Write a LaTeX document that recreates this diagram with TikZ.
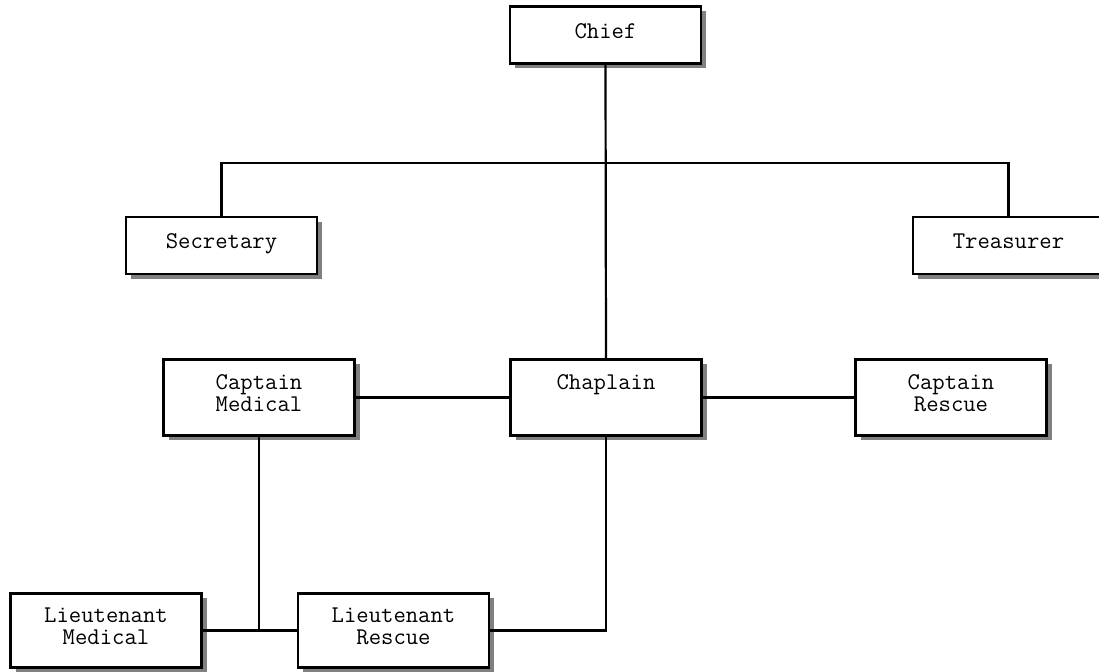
\documentclass[tikz,border=0pt]{standalone}
\usepackage{tikz}
\usetikzlibrary{shadows}

\begin{document}
\begin{tikzpicture}[x=0.5pt, y=-0.5pt]
	\tikzset{box/.style = {shape=rectangle, draw, line width=1.2pt, fill=white, align=center,
		minimum width=95.5pt, inner sep=0pt, outer sep=0pt, text depth=4pt,
		font=\ttfamily\fontsize{12pt}{11pt}\selectfont,
		drop shadow={shadow xshift=2.5pt, shadow yshift=-2.5pt, fill=black!50, opacity=1}}}
	\tikzset{small/.style = {box, minimum height=28.5pt}}
	\tikzset{tall/.style = {box, minimum height=38pt}}
	\tikzset{link/.style = {line width=1.1pt}}
	\useasboundingbox (0,0) rectangle (1099,672);
	\node[small] (chief) at (605.5, 35) {Chief};
	\node[small] (secretary) at (221.5, 245.5) {Secretary};
	\node[small] (treasurer) at (1008.5, 245.5) {Treasurer};
	\node[tall] (capmed) at (259, 397.5) {Captain\\Medical};
	\node[tall] (chaplain) at (606, 397.5) {Chaplain\\\mbox{}};
	\node[tall] (capres) at (951, 397.5) {Captain\\Rescue};
	\node[tall, minimum height=37pt] (ltmed) at (106, 630.5) {Lieutenant\\Medical};
	\node[tall, minimum height=37pt] (ltres) at (393.5, 630.5) {Lieutenant\\Rescue};
	\coordinate (bar) at (605, 163);
	\draw[link] (chief.south) to (chaplain.north);
	\draw[link] (secretary.north) |- (bar) -| (treasurer.north);
	\draw[link] (capmed.east) to (chaplain.west);
	\draw[link] (chaplain.east) to (capres.west);
	\draw[link] (ltmed.east) to (ltres.west);
	\draw[link] (capmed.south) to (capmed.south |- ltmed.east);
	\draw[link] (chaplain.south) |- (ltres.east);
\end{tikzpicture}
\end{document}
